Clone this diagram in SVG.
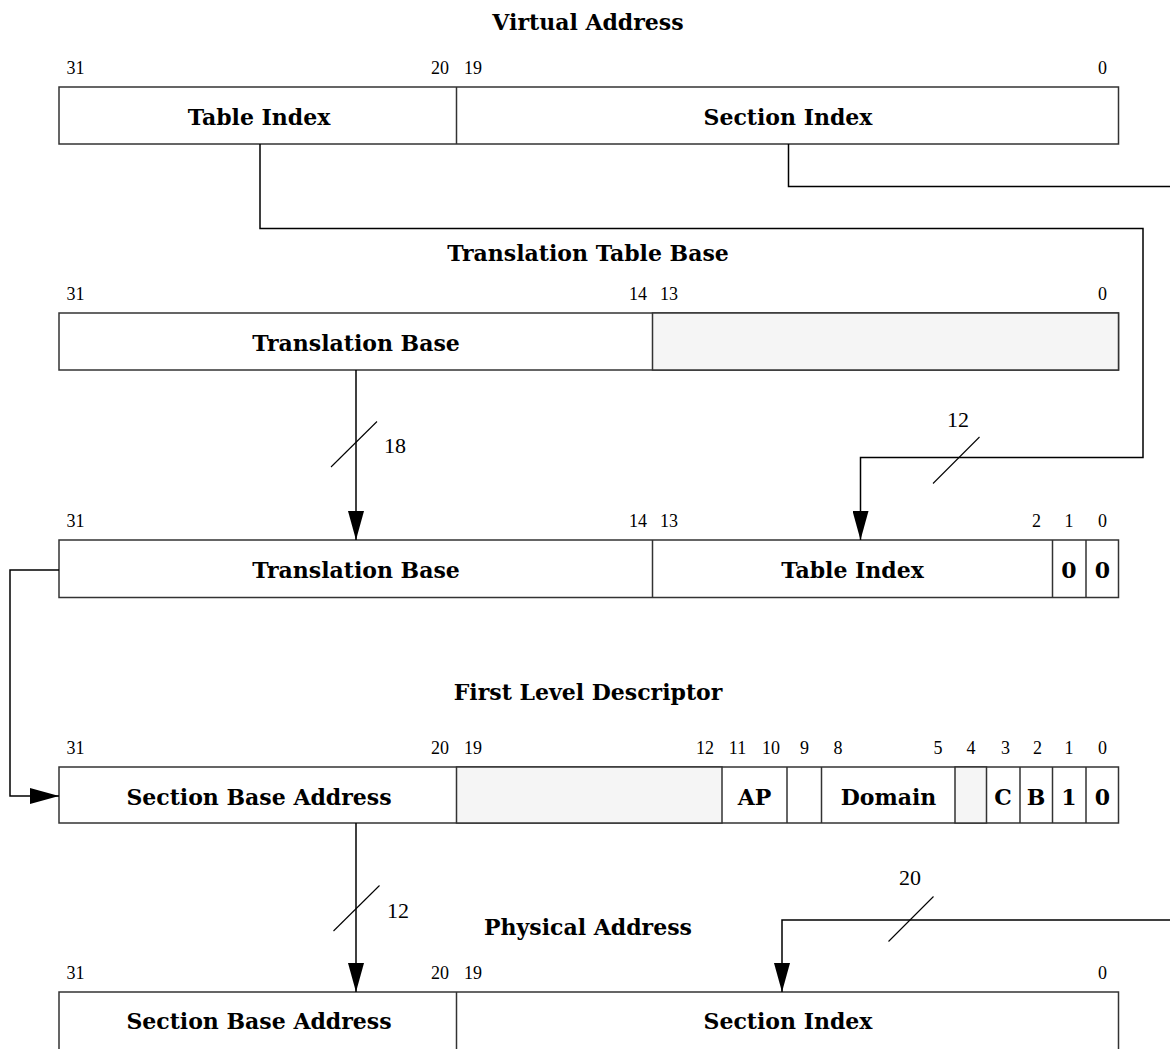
<svg xmlns="http://www.w3.org/2000/svg" width="1170" height="1049" viewBox="0 0 1170 1049">
<style>
.bg{fill:#ffffff}
.box{fill:#ffffff;stroke:#333333;stroke-width:1.5}
.res{fill:#f5f5f5;stroke:#333333;stroke-width:1.5}
.div{stroke:#333333;stroke-width:1.5;fill:none}
.title{font-family:"DejaVu Serif","Liberation Serif",serif;font-weight:bold;font-size:22px;fill:#000;text-anchor:middle}
.lbl{font-family:"DejaVu Serif","Liberation Serif",serif;font-weight:bold;font-size:22px;fill:#000;text-anchor:middle}
.bit{font-family:"Liberation Serif",serif;font-size:18px;fill:#000;text-anchor:middle}
.cnt{font-family:"Liberation Serif",serif;font-size:22px;fill:#000}
.wire{fill:none;stroke:#000;stroke-width:1.5}
.slash{fill:none;stroke:#000;stroke-width:1.1}
</style>
<defs>
<marker id="arr" markerUnits="userSpaceOnUse" viewBox="0 0 29 16" markerWidth="29" markerHeight="16" refX="29" refY="8" orient="auto">
<path d="M0,0 L29,8 L0,16 Z" fill="#000"/>
</marker>
</defs>
<rect class="bg" x="0" y="0" width="1170" height="1049"/>

<g id="virtual-address">
<text class="title" x="588" y="30">Virtual Address</text>
<text class="bit" x="75.5" y="74">31</text>
<text class="bit" x="440" y="74">20</text>
<text class="bit" x="473" y="74">19</text>
<text class="bit" x="1102.5" y="74">0</text>
<rect class="box" x="59" y="87" width="1059.5" height="57"/>
<line class="div" x1="456.5" y1="87" x2="456.5" y2="144"/>
<text class="lbl" x="259" y="124.5">Table Index</text>
<text class="lbl" x="788" y="124.5">Section Index</text>
</g>

<g id="translation-table-base">
<text class="title" x="588" y="261">Translation Table Base</text>
<text class="bit" x="75.5" y="300">31</text>
<text class="bit" x="638" y="300">14</text>
<text class="bit" x="669" y="300">13</text>
<text class="bit" x="1102.5" y="300">0</text>
<rect class="box" x="59" y="313" width="1059.5" height="57"/>
<rect class="res" x="652.5" y="313" width="466" height="57"/>
<text class="lbl" x="356" y="350.5">Translation Base</text>
</g>

<g id="descriptor-address">
<text class="bit" x="75.5" y="527">31</text>
<text class="bit" x="638" y="527">14</text>
<text class="bit" x="669" y="527">13</text>
<text class="bit" x="1036.5" y="527">2</text>
<text class="bit" x="1069" y="527">1</text>
<text class="bit" x="1102.5" y="527">0</text>
<rect class="box" x="59" y="540" width="1059.5" height="57.5"/>
<line class="div" x1="652.5" y1="540" x2="652.5" y2="597.5"/>
<line class="div" x1="1052.5" y1="540" x2="1052.5" y2="597.5"/>
<line class="div" x1="1086" y1="540" x2="1086" y2="597.5"/>
<text class="lbl" x="356" y="577.5">Translation Base</text>
<text class="lbl" x="852.5" y="577.5">Table Index</text>
<text class="lbl" x="1069" y="577.5">0</text>
<text class="lbl" x="1102.5" y="577.5">0</text>
</g>

<g id="first-level-descriptor">
<text class="title" x="588" y="700">First Level Descriptor</text>
<text class="bit" x="75.5" y="754">31</text>
<text class="bit" x="440" y="754">20</text>
<text class="bit" x="473" y="754">19</text>
<text class="bit" x="705" y="754">12</text>
<text class="bit" x="737.5" y="754">11</text>
<text class="bit" x="771" y="754">10</text>
<text class="bit" x="804.5" y="754">9</text>
<text class="bit" x="838" y="754">8</text>
<text class="bit" x="938" y="754">5</text>
<text class="bit" x="971" y="754">4</text>
<text class="bit" x="1005.5" y="754">3</text>
<text class="bit" x="1037.5" y="754">2</text>
<text class="bit" x="1069" y="754">1</text>
<text class="bit" x="1102.5" y="754">0</text>
<rect class="box" x="59" y="767" width="1059.5" height="56"/>
<rect class="res" x="456.5" y="767" width="265.5" height="56"/>
<rect class="res" x="955" y="767" width="31.5" height="56"/>
<line class="div" x1="787" y1="767" x2="787" y2="823"/>
<line class="div" x1="821.5" y1="767" x2="821.5" y2="823"/>
<line class="div" x1="1020" y1="767" x2="1020" y2="823"/>
<line class="div" x1="1052.5" y1="767" x2="1052.5" y2="823"/>
<line class="div" x1="1086" y1="767" x2="1086" y2="823"/>
<text class="lbl" x="259" y="804.5">Section Base Address</text>
<text class="lbl" x="754.5" y="804.5">AP</text>
<text class="lbl" x="888.5" y="804.5">Domain</text>
<text class="lbl" x="1003" y="804.5">C</text>
<text class="lbl" x="1036" y="804.5">B</text>
<text class="lbl" x="1069" y="804.5">1</text>
<text class="lbl" x="1102.5" y="804.5">0</text>
</g>

<g id="physical-address">
<text class="title" x="588" y="935">Physical Address</text>
<text class="bit" x="75.5" y="979">31</text>
<text class="bit" x="440" y="979">20</text>
<text class="bit" x="473" y="979">19</text>
<text class="bit" x="1102.5" y="979">0</text>
<rect class="box" x="59" y="992" width="1059.5" height="80"/>
<line class="div" x1="456.5" y1="992" x2="456.5" y2="1049"/>
<text class="lbl" x="259" y="1029">Section Base Address</text>
<text class="lbl" x="788" y="1029">Section Index</text>
</g>

<g id="connectors">
<path class="wire" d="M260,144 V228.5 H1143 V457.5 H860.5 V540" marker-end="url(#arr)"/>
<path class="wire" d="M788.5,144 V186.5 H1170"/>
<path class="wire" d="M1170,920 H782 V992" marker-end="url(#arr)"/>
<path class="wire" d="M356,370 V540" marker-end="url(#arr)"/>
<path class="wire" d="M59,570 H10 V796 H59" marker-end="url(#arr)"/>
<path class="wire" d="M356,823 V992" marker-end="url(#arr)"/>
<line class="slash" x1="331" y1="467" x2="377" y2="421.5"/>
<text class="cnt" x="384" y="452.5">18</text>
<line class="slash" x1="933" y1="483.5" x2="979.5" y2="437"/>
<text class="cnt" x="958" y="426.5" text-anchor="middle">12</text>
<line class="slash" x1="333.5" y1="931" x2="379.5" y2="885.5"/>
<text class="cnt" x="387" y="917.5">12</text>
<line class="slash" x1="888.5" y1="941.5" x2="933.5" y2="896.5"/>
<text class="cnt" x="910" y="885" text-anchor="middle">20</text>
</g>
</svg>
